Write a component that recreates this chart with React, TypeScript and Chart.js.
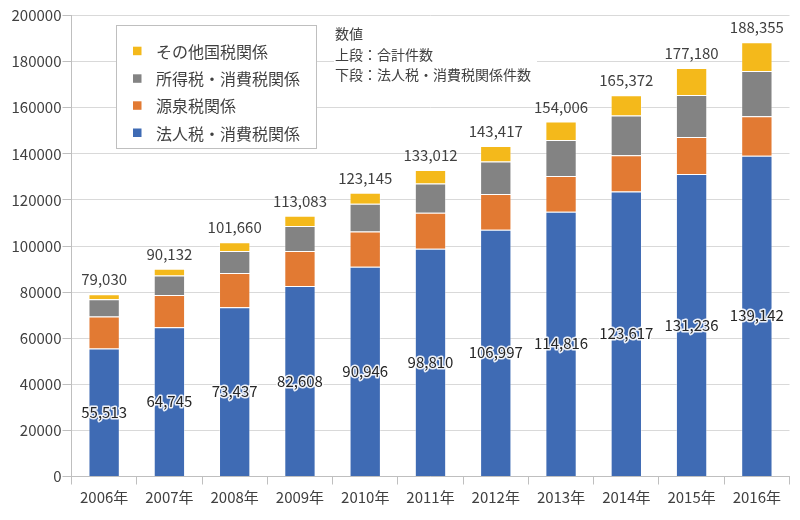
import React, { useEffect, useRef } from "react";
import { Chart, registerables } from "chart.js";

Chart.register(...registerables);

const categories = ["2006年", "2007年", "2008年", "2009年", "2010年", "2011年", "2012年", "2013年", "2014年", "2015年", "2016年"];
const houjin = [55513, 64745, 73437, 82608, 90946, 98810, 106997, 114816, 123617, 131236, 139142];
const gensen = [13900, 14000, 14800, 15200, 15300, 15600, 15600, 15600, 15800, 16000, 17200];
const shotoku = [7500, 8500, 9600, 10900, 12100, 12700, 14100, 15600, 17200, 18300, 19600];
const sonota = [2117, 2887, 3823, 4375, 4799, 5902, 6720, 7990, 8755, 11644, 12413];
const totals = [79030, 90132, 101660, 113083, 123145, 133012, 143417, 154006, 165372, 177180, 188355];
const seriesNames = ["法人税・消費税関係", "源泉税関係", "所得税・消費税関係", "その他国税関係"];
const noteLines = ["数値", "上段：合計件数", "下段：法人税・消費税関係件数"];

const COLORS = ["#3f6bb4", "#e27a33", "#838383", "#f4b91b"];
const FONT = "'Noto Sans CJK JP', 'Noto Sans', sans-serif";

const fmt = (v: number) => v.toLocaleString("en-US");

const overlayPlugin = {
  id: "overlay",
  afterDatasetsDraw(chart: any) {
    const ctx = chart.ctx;
    ctx.save();
    const m0 = chart.getDatasetMeta(0);
    ctx.font = `15px ${FONT}`;
    ctx.textAlign = "center";
    ctx.textBaseline = "alphabetic";
    m0.data.forEach((bar: any, i: number) => {
      const mid = (bar.y + bar.base) / 2;
      ctx.lineWidth = 3;
      ctx.strokeStyle = "rgba(255,255,255,0.9)";
      ctx.lineJoin = "round";
      ctx.strokeText(fmt(houjin[i]), bar.x, mid + 5.5);
      ctx.fillStyle = "#262626";
      ctx.fillText(fmt(houjin[i]), bar.x, mid + 5.5);
    });
    const m3 = chart.getDatasetMeta(3);
    ctx.fillStyle = "#404040";
    m3.data.forEach((bar: any, i: number) => {
      ctx.fillText(fmt(totals[i]), bar.x, bar.y - 9);
    });
    ctx.restore();
  },
  afterDraw(chart: any) {
    const ctx = chart.ctx;
    ctx.save();
    ctx.fillStyle = "#ffffff";
    ctx.fillRect(116.5, 25.5, 200, 123);
    ctx.strokeStyle = "#bfbfbf";
    ctx.lineWidth = 1;
    ctx.strokeRect(116.5, 25.5, 200, 123);
    const order = [3, 2, 1, 0];
    const rows = [50.7, 78.3, 105.3, 132.5];
    ctx.font = `16px ${FONT}`;
    ctx.textAlign = "left";
    ctx.textBaseline = "middle";
    order.forEach((di, r) => {
      ctx.fillStyle = COLORS[di];
      ctx.fillRect(133, rows[r] - 4, 8.5, 8.5);
      ctx.fillStyle = "#404040";
      ctx.fillText(seriesNames[di], 156, rows[r] + 1);
    });
    ctx.fillStyle = "#ffffff";
    ctx.fillRect(334, 42, 203, 44);
    ctx.font = `14px ${FONT}`;
    ctx.fillStyle = "#404040";
    const ny = [32.7, 53.5, 73.5];
    noteLines.forEach((t, i) => ctx.fillText(t, 335, ny[i] + 1));
    ctx.restore();
  },
};

export default function App() {
  const ref = useRef<HTMLCanvasElement>(null);
  useEffect(() => {
    const ds = [houjin, gensen, shotoku, sonota].map((d, i) => ({
      label: seriesNames[i],
      data: d,
      backgroundColor: COLORS[i],
      borderColor: "rgba(255,255,255,0.35)",
      borderWidth: 1,
      categoryPercentage: 1,
      barPercentage: 0.48,
    }));
    const chart = new Chart(ref.current!, {
      type: "bar",
      data: { labels: categories, datasets: ds },
      options: {
        animation: false,
        responsive: false,
        maintainAspectRatio: false,
        layout: { padding: { left: 0, right: 10.5, top: 15.5, bottom: 0 } },
        plugins: { legend: { display: false }, tooltip: { enabled: false } },
        scales: {
          x: {
            stacked: true,
            grid: { drawOnChartArea: false, drawTicks: true, tickLength: 8, color: "#bfbfbf", offset: true },
            border: { color: "#bfbfbf" },
            ticks: { color: "#404040", font: { size: 15, family: FONT }, padding: 4 },
            afterFit: (s: any) => { s.height = 43.5; },
          },
          y: {
            stacked: true,
            min: 0,
            max: 200000,
            grid: { color: "#d9d9d9", tickColor: "#bfbfbf", tickLength: 9 },
            border: { color: "#bfbfbf" },
            ticks: {
              stepSize: 20000,
              color: "#404040",
              font: { size: 15, family: FONT },
              padding: 1,
              callback: (v: any) => String(v),
            },
            afterFit: (s: any) => { s.width = 71.5; },
          },
        },
      },
      plugins: [overlayPlugin],
    });
    return () => chart.destroy();
  }, []);
  return (
    <div style={{ position: "absolute", left: 0, top: 0, width: 800, height: 520, background: "#fff" }}>
      <canvas ref={ref} width={800} height={520} style={{ width: 800, height: 520 }} />
    </div>
  );
}
